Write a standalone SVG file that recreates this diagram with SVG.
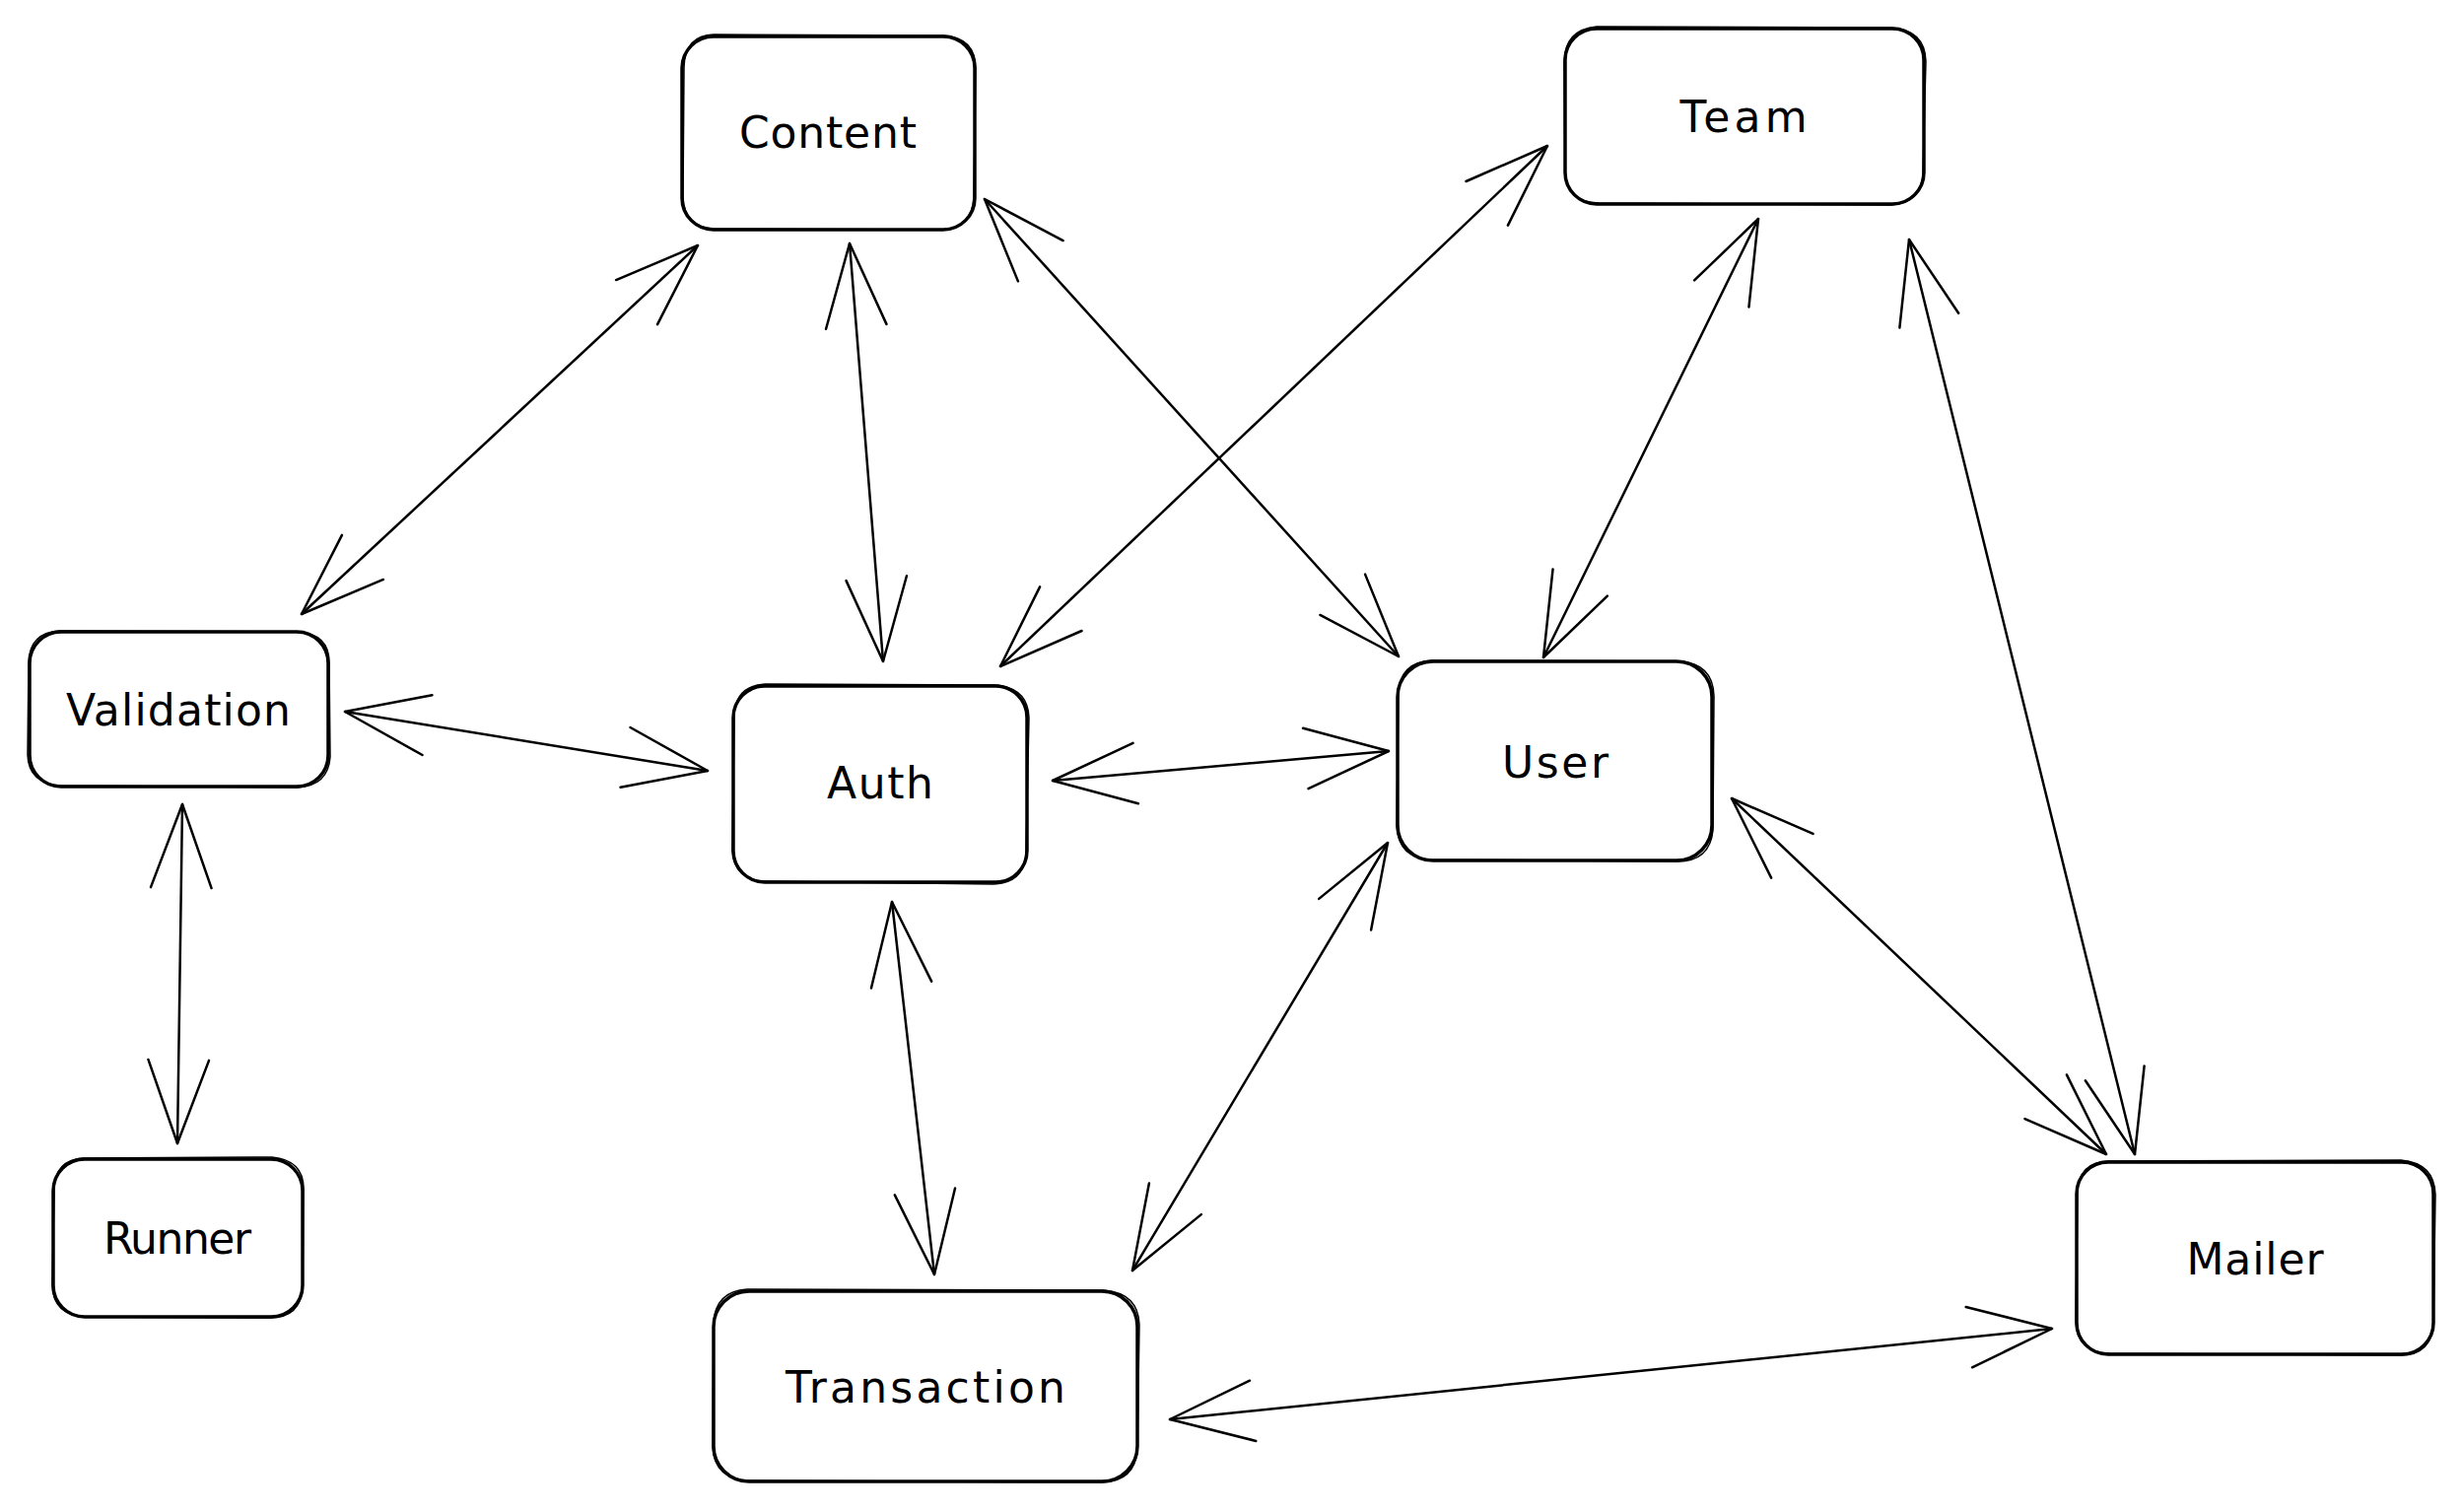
<svg xmlns="http://www.w3.org/2000/svg" width="2499" height="1534" viewBox="0 0 2499 1534">
<style>
  .box { fill: #ffffff; stroke: #000000; stroke-width: 3.5; }
  .box2 { fill: none; stroke: #000000; stroke-width: 1.5; }
  .lbl { font-family: "DejaVu Sans", "Liberation Sans", sans-serif; font-size: 44px; fill: #000000; text-anchor: middle; dominant-baseline: central; }
  .conn { stroke: #000000; stroke-width: 2.5; fill: none; stroke-linecap: round; marker-start: url(#ah); marker-end: url(#ah); }
</style>
<defs>
  <marker id="ah" markerUnits="userSpaceOnUse" viewBox="0 0 200 200" markerWidth="200" markerHeight="200" refX="100" refY="100" orient="auto-start-reverse">
    <path d="M 15.4 69.2 L 100 100 L 15.4 130.8" fill="none" stroke="#000000" stroke-width="2.5" stroke-linecap="round" stroke-linejoin="round"/>
  </marker>
</defs>
<rect width="2499" height="1534" fill="#ffffff"/>

<g id="connectors">
  <line class="conn" x1="708" y1="249" x2="306" y2="623"/>
  <line class="conn" x1="862" y1="247" x2="896" y2="671"/>
  <line class="conn" x1="999" y1="202" x2="1419" y2="666"/>
  <line class="conn" x1="1570" y1="148" x2="1015" y2="676"/>
  <line class="conn" x1="1784" y1="222" x2="1566" y2="667"/>
  <line class="conn" x1="1937" y1="243" x2="2166" y2="1171"/>
  <line class="conn" x1="350" y1="722" x2="718" y2="782"/>
  <line class="conn" x1="1068" y1="792" x2="1409" y2="762"/>
  <line class="conn" x1="185" y1="816" x2="180" y2="1160"/>
  <line class="conn" x1="905" y1="915" x2="948" y2="1293"/>
  <line class="conn" x1="1408" y1="855" x2="1149" y2="1289"/>
  <line class="conn" x1="1757" y1="810" x2="2137" y2="1171"/>
  <line class="conn" x1="1187" y1="1440" x2="2082" y2="1348"/>
</g>

<g id="node-content">
  <rect class="box" x="692" y="37" width="297" height="196" rx="32"/>
  <path class="box2" d="M 724 35 L 957 36 Q 990 38 990 70 L 988 200 Q 986 233 954 233 L 724 232 Q 694 230 693 200 L 694 68 Q 695 36 724 35 Z"/>
  <text class="lbl" x="840" y="134" textLength="180">Content</text>
</g>
<g id="node-team">
  <rect class="box" x="1588" y="29" width="364" height="178" rx="32"/>
  <path class="box2" d="M 1620 27 L 1918 28 Q 1953 30 1954 62 L 1951 176 Q 1950 206 1918 208 L 1622 206 Q 1589 205 1588 174 L 1587 62 Q 1588 30 1620 27 Z"/>
  <text class="lbl" x="1769" y="118" textLength="129">Team</text>
</g>
<g id="node-validation">
  <rect class="box" x="30" y="641" width="303" height="157" rx="32"/>
  <path class="box2" d="M 60 640 L 302 641 Q 334 643 334 672 L 335 768 Q 333 797 302 799 L 62 797 Q 29 795 28 766 L 29 672 Q 30 642 60 640 Z"/>
  <text class="lbl" x="181" y="720" textLength="228">Validation</text>
</g>
<g id="node-auth">
  <rect class="box" x="744" y="696" width="298" height="199" rx="32"/>
  <path class="box2" d="M 776 694 L 1010 695 Q 1043 698 1044 728 L 1041 864 Q 1040 896 1008 897 L 776 894 Q 745 893 743 862 L 745 726 Q 746 696 776 694 Z"/>
  <text class="lbl" x="893" y="794" textLength="108">Auth</text>
</g>
<g id="node-user">
  <rect class="box" x="1418" y="671" width="319" height="202" rx="36"/>
  <path class="box2" d="M 1452 670 L 1704 671 Q 1738 673 1739 706 L 1738 842 Q 1735 874 1702 874 L 1452 872 Q 1419 871 1417 838 L 1419 704 Q 1420 672 1452 670 Z"/>
  <text class="lbl" x="1578" y="773" textLength="108">User</text>
</g>
<g id="node-runner">
  <rect class="box" x="54" y="1176" width="253" height="160" rx="32"/>
  <path class="box2" d="M 84 1175 L 276 1174 Q 308 1177 308 1206 L 307 1306 Q 305 1337 274 1337 L 86 1336 Q 54 1334 53 1304 L 55 1206 Q 56 1177 84 1175 Z"/>
  <text class="lbl" x="180" y="1256" textLength="150">Runner</text>
</g>
<g id="node-transaction">
  <rect class="box" x="724" y="1310" width="430" height="193" rx="36"/>
  <path class="box2" d="M 758 1308 L 1120 1309 Q 1155 1312 1156 1344 L 1154 1470 Q 1152 1503 1118 1504 L 760 1502 Q 725 1501 723 1468 L 724 1342 Q 726 1310 758 1308 Z"/>
  <text class="lbl" x="939" y="1407" textLength="284">Transaction</text>
</g>
<g id="node-mailer">
  <rect class="box" x="2107" y="1179" width="362" height="195" rx="32"/>
  <path class="box2" d="M 2139 1178 L 2436 1177 Q 2470 1180 2471 1212 L 2469 1342 Q 2467 1375 2436 1375 L 2140 1373 Q 2107 1372 2106 1340 L 2108 1210 Q 2109 1179 2139 1178 Z"/>
  <text class="lbl" x="2288" y="1277" textLength="139">Mailer</text>
</g>
</svg>
